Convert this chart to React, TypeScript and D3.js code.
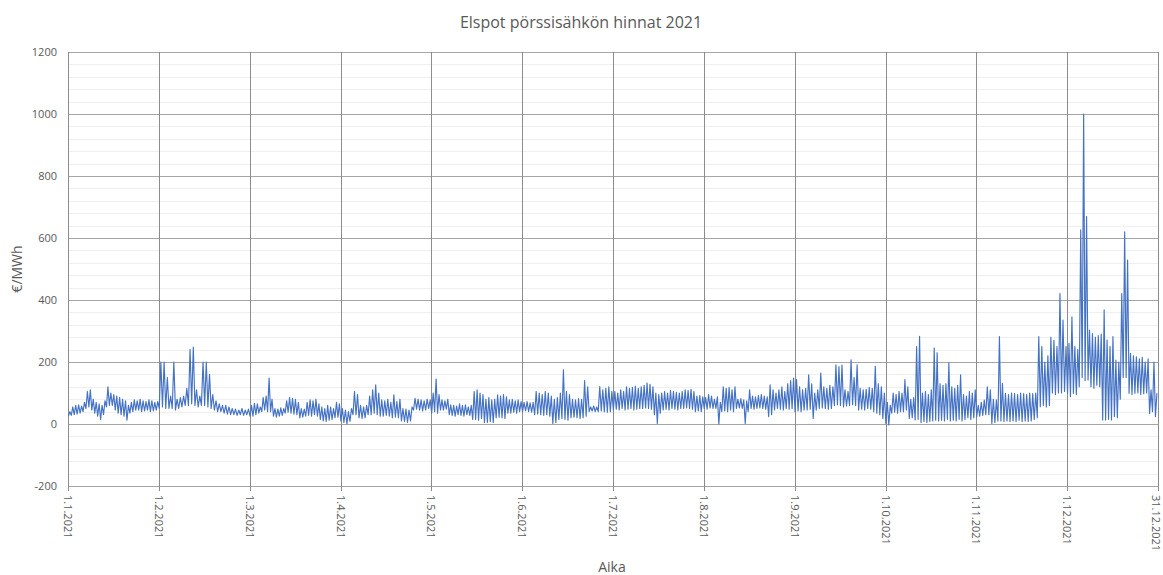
import React from "react";
import * as d3 from "d3";

// Chart geometry
const WIDTH = 1163;
const HEIGHT = 575;
const PLOT = { left: 68, right: 1158, top: 52, bottom: 486 };

const TITLE = "Elspot pörssisähkön hinnat 2021";
const Y_TITLE = "€/MWh";
const X_TITLE = "Aika";

const xTickLabels = [
  "1.1.2021", "1.2.2021", "1.3.2021", "1.4.2021", "1.5.2021", "1.6.2021",
  "1.7.2021", "1.8.2021", "1.9.2021", "1.10.2021", "1.11.2021", "1.12.2021",
  "31.12.2021",
];
const yTicks = [-200, 0, 200, 400, 600, 800, 1000, 1200];
const daysInMonth = [31, 28, 31, 30, 31, 30, 31, 31, 30, 31, 30, 31];

// Daily low (night) and high (peak hour) prices, €/MWh
const janLow = [25, 28, 30, 32, 35, 40, 50, 55, 45, 35, 25, 15, 30, 55, 60, 60, 45, 35, 30, 25, 12, 35, 40, 45, 45, 40, 42, 45, 40, 42, 45];
const janHigh = [40, 55, 60, 62, 58, 70, 105, 110, 80, 70, 65, 60, 75, 120, 100, 95, 90, 85, 80, 75, 60, 70, 78, 75, 80, 75, 72, 78, 75, 70, 72];

const febLow = [50, 55, 50, 50, 50, 45, 50, 55, 60, 60, 65, 60, 55, 60, 60, 55, 50, 45, 40, 40, 35, 32, 30, 30, 28, 30, 28, 30];
const febHigh = [200, 200, 150, 90, 200, 80, 85, 90, 115, 240, 248, 110, 90, 200, 200, 160, 95, 75, 65, 60, 60, 55, 50, 48, 45, 50, 45, 48];

const marLow = [25, 25, 30, 35, 40, 45, 40, 40, 25, 22, 25, 28, 35, 38, 35, 32, 30, 20, 22, 25, 28, 25, 30, 25, 15, 10, 8, 12, 15, 20, 22];
const marHigh = [60, 67, 65, 55, 85, 90, 148, 80, 50, 48, 52, 50, 75, 85, 83, 80, 70, 50, 48, 70, 78, 75, 80, 65, 55, 50, 60, 55, 50, 70, 65];

const aprLow = [10, 5, 0, 8, 30, 30, 20, 18, 20, 30, 30, 35, 30, 25, 25, 28, 25, 20, 22, 20, 10, 8, 5, 10, 45, 48, 45, 42, 45, 50];
const aprHigh = [50, 45, 40, 50, 105, 95, 60, 55, 60, 90, 110, 126, 100, 78, 75, 80, 70, 94, 72, 80, 50, 48, 45, 55, 83, 80, 78, 75, 80, 78];

const mayLow = [35, 40, 35, 45, 45, 48, 30, 28, 25, 30, 28, 25, 30, 28, 15, 15, 12, 18, 5, 5, 8, 5, 20, 22, 20, 18, 35, 35, 38, 35, 40];
const mayHigh = [100, 145, 95, 78, 75, 80, 62, 60, 58, 65, 60, 62, 55, 60, 105, 110, 100, 95, 80, 85, 78, 80, 94, 90, 95, 88, 78, 80, 75, 78, 72];

const junLow = [40, 42, 40, 38, 30, 32, 30, 28, 30, 25, 2, 5, 15, 18, 15, 12, 20, 22, 20, 18, 20, 25, 40, 42, 40, 40, 42, 40, 38, 40];
const junHigh = [70, 72, 68, 70, 105, 100, 95, 105, 100, 90, 80, 85, 100, 175, 105, 95, 80, 78, 82, 80, 140, 120, 55, 58, 55, 121, 110, 115, 120, 105];

const julLow = [45, 48, 45, 50, 45, 48, 50, 45, 48, 50, 50, 52, 50, 48, 30, 2, 35, 45, 48, 45, 50, 48, 45, 50, 50, 52, 50, 48, 40, 42, 40];
const julHigh = [105, 100, 110, 105, 120, 115, 118, 122, 115, 120, 125, 132, 128, 120, 100, 95, 100, 105, 100, 108, 105, 102, 100, 105, 110, 108, 112, 105, 90, 92, 88];

const augLow = [50, 48, 52, 50, 50, 0, 40, 42, 40, 45, 40, 50, 52, 50, 2, 40, 50, 48, 50, 52, 50, 48, 24, 30, 45, 50, 48, 45, 50, 48, 50];
const augHigh = [85, 95, 90, 80, 88, 70, 120, 115, 118, 110, 120, 80, 82, 78, 75, 110, 90, 88, 92, 95, 90, 88, 126, 110, 100, 110, 120, 105, 130, 140, 148];

const sepLow = [40, 42, 40, 45, 45, 48, 18, 45, 50, 52, 50, 48, 50, 60, 62, 60, 55, 58, 60, 62, 60, 45, 48, 45, 50, 48, 40, 35, 30, 18];
const sepHigh = [143, 120, 110, 115, 159, 130, 100, 110, 164, 120, 115, 125, 120, 191, 185, 190, 110, 105, 207, 150, 191, 115, 110, 112, 118, 115, 186, 130, 120, 100];

const octLow = [2, -3, 35, 38, 35, 40, 40, 45, 18, 20, 13, 15, 5, 8, 5, 8, 10, 12, 10, 12, 10, 15, 10, 12, 10, 15, 10, 15, 20, 15, 20];
const octHigh = [70, 60, 100, 95, 105, 100, 143, 120, 80, 85, 250, 283, 100, 105, 95, 110, 245, 230, 130, 125, 130, 197, 120, 115, 125, 159, 95, 90, 105, 100, 110];

const novLow = [24, 25, 28, 30, 30, 2, 5, 10, 10, 8, 10, 8, 10, 8, 12, 8, 10, 8, 10, 15, 20, 56, 60, 55, 60, 100, 95, 100, 100, 105];
const novHigh = [60, 70, 77, 120, 110, 80, 78, 282, 131, 99, 95, 100, 98, 95, 100, 98, 95, 100, 98, 100, 282, 250, 200, 220, 280, 270, 250, 421, 335, 250];

const decLow = [99, 88, 99, 95, 120, 150, 140, 142, 120, 115, 125, 120, 13, 13, 15, 13, 24, 20, 80, 150, 150, 99, 95, 99, 100, 95, 98, 100, 34, 40, 24];
const decHigh = [260, 346, 250, 240, 626, 1000, 669, 303, 292, 280, 285, 290, 368, 271, 250, 282, 206, 200, 421, 620, 529, 228, 220, 217, 210, 215, 200, 210, 110, 200, 99];

const monthlyLows = [janLow, febLow, marLow, aprLow, mayLow, junLow, julLow, augLow, sepLow, octLow, novLow, decLow];
const monthlyHighs = [janHigh, febHigh, marHigh, aprHigh, mayHigh, junHigh, julHigh, augHigh, sepHigh, octHigh, novHigh, decHigh];

type Point = { t: number; v: number };

// Each month takes one equal slot on the time axis; a day's low sits in the
// night hours and its high in the afternoon.
const LOW_HOUR = 3;
const HIGH_HOUR = 15;
const series: Point[] = monthlyLows.flatMap((lows, m) => {
  const n = daysInMonth[m];
  return lows.flatMap((low, d) => [
    { t: m + (d + LOW_HOUR / 24) / n, v: low },
    { t: m + (d + HIGH_HOUR / 24) / n, v: monthlyHighs[m][d] },
  ]);
});

const FONT = "'Open Sans', 'Noto Sans', sans-serif";
const TEXT_COLOR = "#595959";

export default function App() {
  const x = d3.scaleLinear().domain([0, 12]).range([PLOT.left, PLOT.right]);
  const y = d3.scaleLinear().domain([-200, 1200]).range([PLOT.bottom, PLOT.top]);

  const minorTicks = d3.range(-200, 1200 + 1, 40).filter((v) => v % 200 !== 0);

  const line = d3
    .line<Point>()
    .x((p) => x(p.t))
    .y((p) => y(p.v));

  return (
    <svg
      width={WIDTH}
      height={HEIGHT}
      style={{ position: "absolute", left: 0, top: 0, background: "#fff" }}
      fontFamily={FONT}
    >
      <rect x={0} y={0} width={WIDTH} height={HEIGHT} fill="#fff" />

      {/* minor horizontal gridlines */}
      {minorTicks.map((v) => (
        <line
          key={`mn${v}`}
          x1={PLOT.left}
          x2={PLOT.right}
          y1={Math.round(y(v)) + 0.5}
          y2={Math.round(y(v)) + 0.5}
          stroke="#efefef"
          strokeWidth={1}
        />
      ))}

      {/* major horizontal gridlines */}
      {yTicks.map((v) => (
        <line
          key={`mj${v}`}
          x1={PLOT.left}
          x2={PLOT.right}
          y1={Math.round(y(v)) + 0.5}
          y2={Math.round(y(v)) + 0.5}
          stroke="#a6a6a6"
          strokeWidth={1}
        />
      ))}

      {/* vertical gridlines with tick marks below the axis */}
      {xTickLabels.map((_, i) => (
        <line
          key={`vx${i}`}
          x1={Math.round(x(i)) + 0.5}
          x2={Math.round(x(i)) + 0.5}
          y1={PLOT.top}
          y2={PLOT.bottom + 5}
          stroke="#8c8c8c"
          strokeWidth={1}
        />
      ))}

      {/* price line */}
      <path d={line(series) ?? ""} fill="none" stroke="#4472C4" strokeWidth={1.15} strokeLinejoin="round" />

      {/* y tick labels */}
      {yTicks.map((v) => (
        <text
          key={`yl${v}`}
          x={PLOT.left - 11}
          y={y(v)}
          dy="0.35em"
          textAnchor="end"
          fontSize={11}
          fill={TEXT_COLOR}
        >
          {v}
        </text>
      ))}

      {/* x tick labels, rotated; the last one is nudged inside the frame */}
      {xTickLabels.map((label, i) => (
        <text
          key={`xl${i}`}
          transform={`translate(${x(i) - (i === xTickLabels.length - 1 ? 2 : 0)},${PLOT.bottom + 9}) rotate(90)`}
          dy="0.35em"
          textAnchor="start"
          fontSize={11}
          fill={TEXT_COLOR}
        >
          {label}
        </text>
      ))}

      {/* titles */}
      <text x={581} y={28} textAnchor="middle" fontSize={16} fill={TEXT_COLOR}>
        {TITLE}
      </text>
      <text
        transform={`translate(22,${(PLOT.top + PLOT.bottom) / 2}) rotate(-90)`}
        textAnchor="middle"
        fontSize={14}
        fill={TEXT_COLOR}
      >
        {Y_TITLE}
      </text>
      <text x={612} y={572} textAnchor="middle" fontSize={14} fill={TEXT_COLOR}>
        {X_TITLE}
      </text>
    </svg>
  );
}
